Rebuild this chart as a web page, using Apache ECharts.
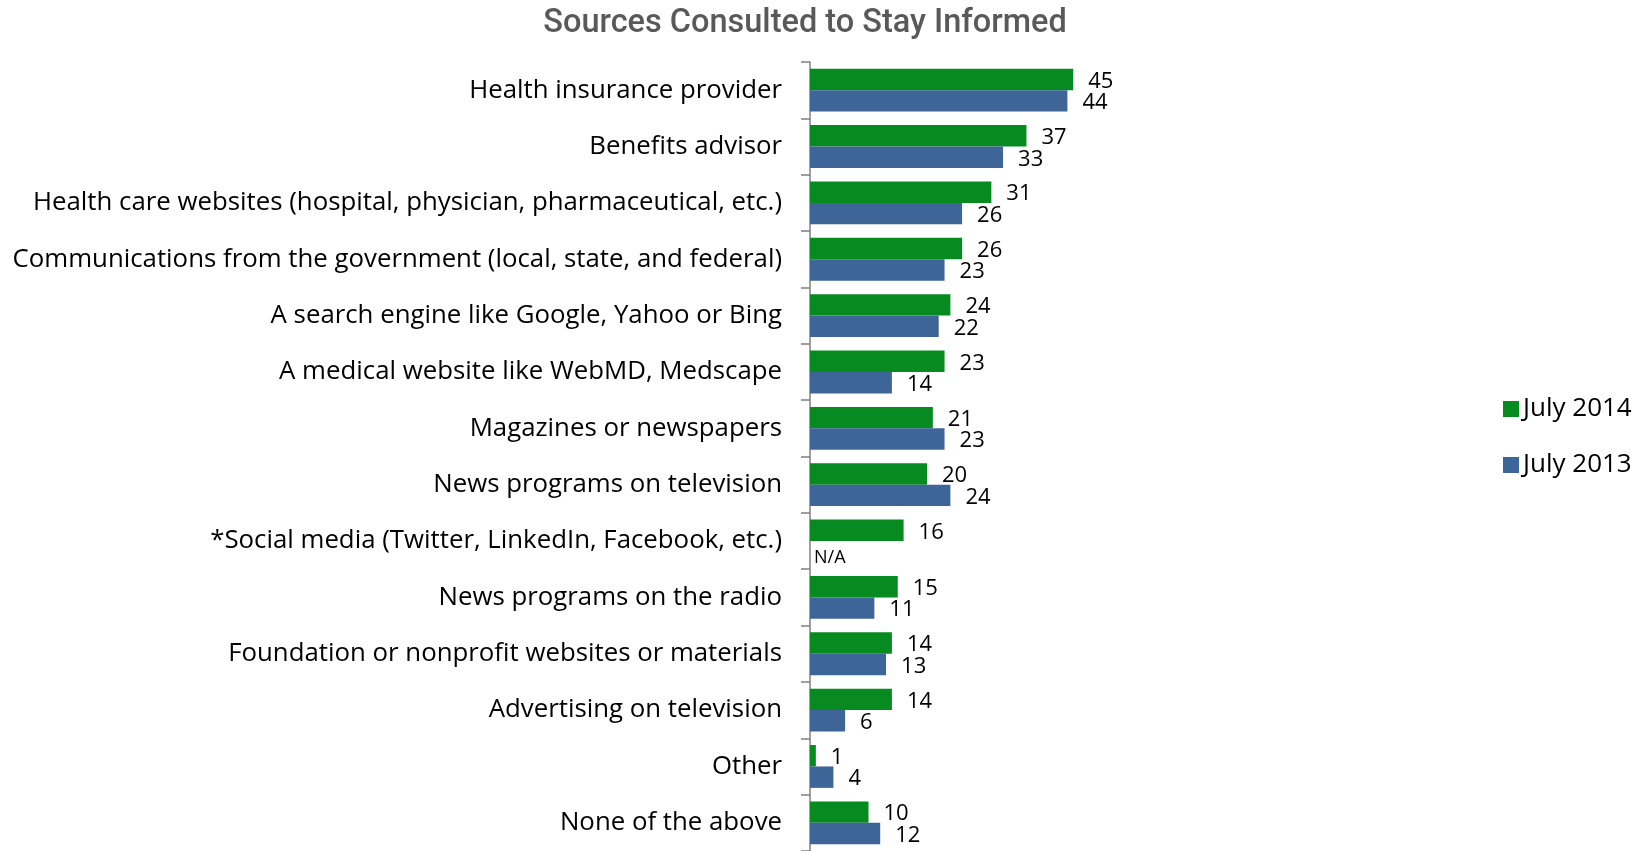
<!DOCTYPE html>
<html>
<head>
<meta charset="utf-8">
<script src="https://cdn.jsdelivr.net/npm/echarts@6/dist/echarts.min.js"></script>
<style>
  html, body { margin: 0; padding: 0; background: #fff; }
  #chart { width: 1647px; height: 851px; }
</style>
</head>
<body>
<div id="chart"></div>
<script>
const categories = [
  'Health insurance provider',
  'Benefits advisor',
  'Health care websites (hospital, physician, pharmaceutical, etc.)',
  'Communications from the government (local, state, and federal)',
  'A search engine like Google, Yahoo or Bing',
  'A medical website like WebMD, Medscape',
  'Magazines or newspapers',
  'News programs on television',
  '*Social media (Twitter, LinkedIn, Facebook, etc.)',
  'News programs on the radio',
  'Foundation or nonprofit websites or materials',
  'Advertising on television',
  'Other',
  'None of the above'
];
const july2014 = [45, 37, 31, 26, 24, 23, 21, 20, 16, 15, 14, 14, 1, 10];
const july2013 = [44, 33, 26, 23, 22, 14, 23, 24, null, 11, 13, 6, 4, 12];
const seriesNames = ['July 2014', 'July 2013'];
const colors = ['#078a1f', '#3d6597'];

const baseFont = '"Open Sans", "Noto Sans", sans-serif';

// Missing survey values get an empty bar tagged "N/A"
function toSeriesData(values) {
  return values.map(v => v === null
    ? { value: 0, label: { formatter: 'N/A', position: 'insideLeft', distance: 4, fontSize: 18, offset: [0, 6] } }
    : v);
}

const chart = echarts.init(document.getElementById('chart'), null, { renderer: 'canvas' });
chart.setOption({
  animation: false,
  title: {
    text: 'Sources Consulted to Stay Informed',
    left: 800,
    textAlign: 'center',
    top: 2,
    textStyle: {
      fontFamily: 'Roboto, "Liberation Sans Narrow", sans-serif',
      fontSize: 32.5,
      fontWeight: 500,
      color: '#595959'
    }
  },
  legend: {
    orient: 'vertical',
    left: 1498,
    top: 391,
    itemWidth: 16,
    itemHeight: 16,
    itemGap: 30,
    icon: 'rect',
    textStyle: { fontFamily: baseFont, fontSize: 26, lineHeight: 22, color: '#000', padding: [0, 0, 0, -1] },
    data: seriesNames
  },
  grid: { left: 810, top: 62, width: 292.5, height: 792, containLabel: false },
  xAxis: {
    type: 'value', min: 0, max: 50,
    show: false
  },
  yAxis: {
    type: 'category',
    inverse: true,
    data: categories,
    axisLine: { show: true, lineStyle: { color: '#808080', width: 1.5 } },
    axisTick: { show: true, length: 9, lineStyle: { color: '#808080', width: 1.5 } },
    axisLabel: { fontFamily: baseFont, fontSize: 25.8, color: '#000', margin: 28, padding: [4, 0, 0, 0] }
  },
  series: [0, 1].map(i => ({
    name: seriesNames[i],
    type: 'bar',
    data: toSeriesData(i === 0 ? july2014 : july2013),
    itemStyle: { color: colors[i] },
    barGap: '0%',
    barCategoryGap: '24%',
    label: {
      show: true,
      position: 'right',
      distance: 15,
      offset: [0, 2],
      fontFamily: baseFont,
      fontSize: 22,
      color: '#000'
    }
  }))
});
</script>
</body>
</html>
